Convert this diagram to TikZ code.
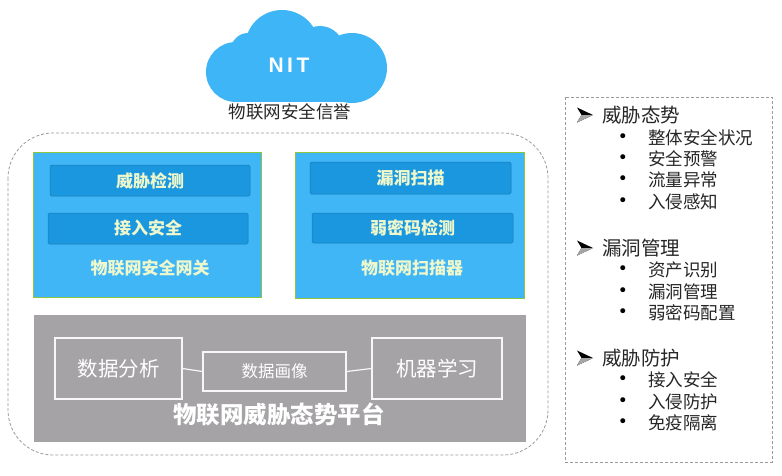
\documentclass[tikz,border=0pt]{standalone}
\usepackage{fontspec}
\setmainfont{Noto Sans CJK SC}
\newfontfamily\cjk{Noto Sans CJK SC}
\newfontfamily\djv{DejaVu Sans}
\newfontfamily\latb{Liberation Sans}
\definecolor{cloudblue}{HTML}{3DB5F6}
\definecolor{boxblue}{HTML}{41B6F6}
\definecolor{barblue}{HTML}{1A97DE}
\definecolor{boxedge}{HTML}{8CC63F}
\definecolor{lbltxt}{HTML}{EEF8CC}
\definecolor{platgray}{HTML}{A5A3A6}
\definecolor{dashgray}{HTML}{9A9A9A}
\definecolor{txtdark}{HTML}{262626}
\begin{document}
\begin{tikzpicture}[x=1pt,y=-1pt,
  panel/.style={draw=boxedge,line width=0.8pt,fill=boxblue},
  bar/.style={draw=barblue!80!black,line width=0.5pt,fill=barblue,rounded corners=1.5pt},
  bartxt/.style={font=\cjk\bfseries\fontsize{17}{17}\selectfont,text=lbltxt},
  inbox/.style={draw=white!94!gray,line width=1.2pt,inner sep=0pt},
  wtxt/.style={text=white},
  head/.style={anchor=west,text=txtdark,font=\cjk\fontsize{19.5}{20}\selectfont,inner sep=0pt},
  item/.style={anchor=west,text=txtdark,font=\cjk\fontsize{17.5}{18}\selectfont,inner sep=0pt},
  bul/.style={anchor=center,text=black,font=\djv\fontsize{17}{17}\selectfont,inner sep=0pt},
  dashbox/.style={draw=dashgray,line width=0.8pt,dash pattern=on 3pt off 2pt},
  arrowmark/.pic={\fill[black] (8,0) -- (-8,-7.5) -- (-3.5,0) -- (-8,7.5) -- cycle;
                  \fill[gray!70] (8,0) -- (-3.5,0) -- (-8,7.5) -- cycle;}
]
\useasboundingbox (0,0) rectangle (782,475);
\fill[white] (0,0) rectangle (782,475);

% cloud
\begin{scope}
\fill[cloudblue] (282,47) circle (37);
\fill[cloudblue] (236,72) circle (30);
\fill[cloudblue] (352,68) circle (35);
\fill[cloudblue] (320,50) circle (24);
\fill[cloudblue] (248,50) circle (17);
\fill[cloudblue] (236,60) rectangle (352,102);
\end{scope}
\node[text=white,font=\latb\bfseries\fontsize{21}{21}\selectfont] (nit) at (289,65) {N\,I\,T};
\node[text=txtdark,font=\cjk\fontsize{17.5}{18}\selectfont] (cap) at (290,112) {物联网安全信誉};

% outer dashed rounded container
\draw[dashbox,rounded corners=45pt] (8,133) rectangle (548,455);

% left panel
\draw[panel] (33,152) rectangle (261,297);
\node[bar,minimum width=200pt,minimum height=31pt] (b1) at (150,180.5) {};
\node[bartxt] at (b1) {威胁检测};
\node[bar,minimum width=200pt,minimum height=31pt] (b2) at (148,228.5) {};
\node[bartxt] at (b2) {接入安全};
\node[bartxt] (gw) at (150,268) {物联网安全网关};

% right panel
\draw[panel] (295,152) rectangle (524,298);
\node[bar,minimum width=201pt,minimum height=32pt] (b3) at (410.5,178) {};
\node[bartxt] at (b3) {漏洞扫描};
\node[bar,minimum width=201pt,minimum height=30pt] (b4) at (412.5,228) {};
\node[bartxt] at (b4) {弱密码检测};
\node[bartxt] (sc) at (412,268) {物联网扫描器};

% platform
\fill[platgray] (34,315) rectangle (526,442);
\node[inbox,minimum width=127pt,minimum height=61pt,wtxt,font=\cjk\fontsize{20.5}{21}\selectfont] (da) at (118.5,368.5) {数据分析};
\node[inbox,minimum width=143pt,minimum height=39pt,wtxt,font=\cjk\fontsize{16.5}{17}\selectfont] (dp) at (274.5,371.5) {数据画像};
\node[inbox,minimum width=130pt,minimum height=61pt,wtxt,font=\cjk\fontsize{20.5}{21}\selectfont] (ml) at (437,368.5) {机器学习};
\draw[white!94!gray,line width=1.2pt] (da.east) -- (dp.west);
\draw[white!94!gray,line width=1.2pt] (dp.east) -- (ml.west);
\node[wtxt,font=\cjk\bfseries\fontsize{23.5}{24}\selectfont] (pt) at (279,414) {物联网威胁态势平台};

% right list box
\draw[dashbox] (565,97) rectangle (772,462);
\pic at (585,115) {arrowmark};
\node[head] (h1) at (602,115) {威胁态势};
\node[bul] at (623,138) {•}; \node[item] at (648,138) {整体安全状况};
\node[bul] at (623,159) {•}; \node[item] at (648,159) {安全预警};
\node[bul] at (623,180) {•}; \node[item] at (648,180) {流量异常};
\node[bul] at (623,202) {•}; \node[item] at (648,202) {入侵感知};

\pic at (585,248) {arrowmark};
\node[head] (h2) at (602,248) {漏洞管理};
\node[bul] at (623,270) {•}; \node[item] at (648,270) {资产识别};
\node[bul] at (623,292) {•}; \node[item] at (648,292) {漏洞管理};
\node[bul] at (623,313) {•}; \node[item] at (648,313) {弱密码配置};

\pic at (585,358) {arrowmark};
\node[head] (h3) at (602,358) {威胁防护};
\node[bul] at (623,380) {•}; \node[item] at (648,380) {接入安全};
\node[bul] at (623,402) {•}; \node[item] at (648,402) {入侵防护};
\node[bul] at (623,423) {•}; \node[item] at (648,423) {免疫隔离};
\end{tikzpicture}
\end{document}
